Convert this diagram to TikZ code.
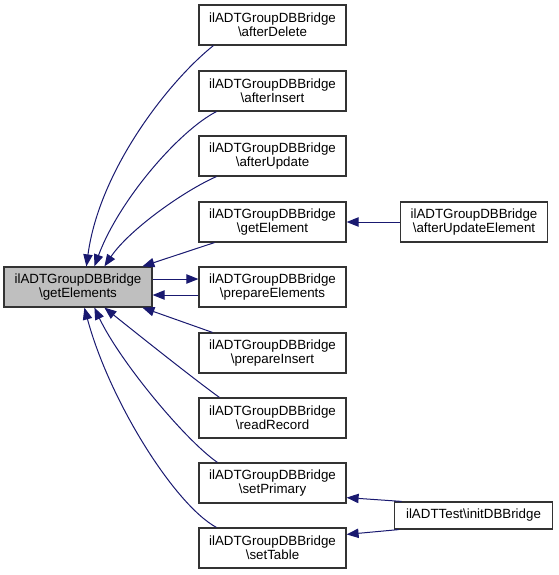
\documentclass[tikz,border=0pt]{standalone}
\usepackage{fontspec}
\setmainfont{Liberation Sans}
\usetikzlibrary{arrows.meta,calc}
\definecolor{edgeblue}{HTML}{191970}
\definecolor{mainfill}{HTML}{BFBFBF}
\tikzset{
  fn/.style={draw=black!80, line width=0.9pt, fill=white, minimum width=110.25pt, minimum height=30pt,
    inner sep=0pt, align=center, font=\fontsize{10}{10.5}\selectfont},
  fnmain/.style={fn, fill=mainfill, minimum width=111pt},
  fnone/.style={fn, minimum width=119pt, minimum height=20.25pt},
  call/.style={draw=edgeblue, line width=0.75pt, -{Triangle[length=9pt,width=7pt]}, fill=none},
}
\newcommand{\bs}{\textbackslash}
\begin{document}
\begin{tikzpicture}[x=0.75pt,y=-0.75pt]
\useasboundingbox (0,0) rectangle (559,575);
\node[fnmain] (main) at (78,287) {ilADTGroupDBBridge\\\bs getElements};
\node[fn] (adel) at (272.5,25) {ilADTGroupDBBridge\\\bs afterDelete};
\node[fn] (ains) at (272.5,91) {ilADTGroupDBBridge\\\bs afterInsert};
\node[fn] (aupd) at (272.5,156) {ilADTGroupDBBridge\\\bs afterUpdate};
\node[fn] (gel) at (272.5,222) {ilADTGroupDBBridge\\\bs getElement};
\node[fn] (pel) at (272.5,287) {ilADTGroupDBBridge\\\bs prepareElements};
\node[fn] (pins) at (272.5,353) {ilADTGroupDBBridge\\\bs prepareInsert};
\node[fn] (rrec) at (272.5,418) {ilADTGroupDBBridge\\\bs readRecord};
\node[fn] (spri) at (272.5,483) {ilADTGroupDBBridge\\\bs setPrimary};
\node[fn] (stab) at (272.5,548) {ilADTGroupDBBridge\\\bs setTable};
\node[fn] (aue) at (474,222) {ilADTGroupDBBridge\\\bs afterUpdateElement};
\node[fnone] (init) at (473.5,515.5) {ilADTTest\bs initDBBridge};

% callers above
\draw[call] ($(adel.south west)+(15,0)$) .. controls +(-44,35) and +(13,-97) .. ($(main.north west)+(83,0)$);
\draw[call] ($(ains.south west)+(18,0)$) .. controls +(-37,19) and +(25,-67) .. ($(main.north west)+(91,0)$);
\draw[call] ($(aupd.south west)+(18,0)$) .. controls +(-32,14) and +(25,-37) .. ($(main.north west)+(101,0)$);
\draw[call] ($(gel.south west)+(16,0)$) -- ($(main.north west)+(139,0)$);
% prepareElements (both directions)
\draw[call] ($(main.east)+(0,-8)$) -- ($(pel.west)+(0,-8)$);
\draw[call] ($(pel.west)+(0,8)$) -- ($(main.east)+(0,8)$);
% callers below
\draw[call] ($(pins.north west)+(14,0)$) -- ($(main.south west)+(139,0)$);
\draw[call] ($(rrec.north west)+(21,0)$) .. controls +(-25,-18) and +(35,28) .. ($(main.south west)+(101,0)$);
\draw[call] ($(spri.north west)+(19,0)$) .. controls +(-33,-23) and +(25,53) .. ($(main.south west)+(91,0)$);
\draw[call] ($(stab.north west)+(18,0)$) .. controls +(-42,-23) and +(25,93) .. ($(main.south west)+(81,0)$);
% right column
\draw[call] (aue.west) -- (gel.east);
\draw[call] ($(init.north west)+(8,0)$) -- ($(spri.south east)+(0,-6)$);
\draw[call] ($(init.south west)+(5,0)$) -- ($(stab.north east)+(0,7)$);
\end{tikzpicture}
\end{document}
